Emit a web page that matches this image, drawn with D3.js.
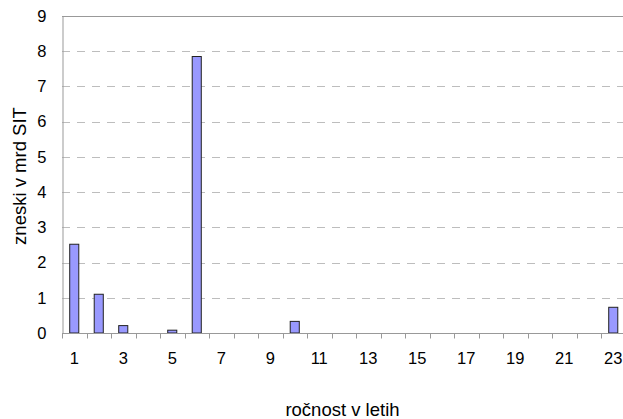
<!DOCTYPE html>
<html>
<head>
<meta charset="utf-8">
<script src="https://cdn.jsdelivr.net/npm/d3@7"></script>
<style>
  body { margin: 0; background: #fff; }
  text { font-family: Arial, 'Liberation Sans', sans-serif; fill: #000; }
</style>
</head>
<body>
<div id="canvas"></div>
<script>
const years = d3.range(1, 24);
const values = [2.52, 1.10, 0.21, 0, 0.08, 7.85, 0, 0, 0, 0.33, 0, 0, 0, 0, 0, 0, 0, 0, 0, 0, 0, 0, 0.73];
const yTicks = [0, 1, 2, 3, 4, 5, 6, 7, 8, 9];
const xLabels = [1, 3, 5, 7, 9, 11, 13, 15, 17, 19, 21, 23];

const w = 623;
const h = 419;
const mLeft = 62, mTop = 16, mRight = 625.5, mBottom = 333;

const svg = d3.select('#canvas')
  .append('svg')
  .attr('width', w)
  .attr('height', h);

const x = d3.scaleBand()
  .domain(years)
  .range([mLeft, mRight])
  .paddingInner(0.63)
  .paddingOuter(0.315);

const xb = d3.scaleBand().domain(years).range([mLeft, mRight]);

const y = d3.scaleLinear().domain([0, 9]).range([mBottom, mTop]);

// grid lines
svg.append('g')
  .selectAll('line')
  .data(yTicks.filter(d => d > 0 && d < 9))
  .enter()
  .append('line')
  .attr('x1', mLeft).attr('x2', mRight)
  .attr('y1', d => Math.round(y(d)) + 0.5).attr('y2', d => Math.round(y(d)) + 0.5)
  .attr('stroke', '#bdbdbd')
  .attr('stroke-dasharray', '8,7');

// top border
svg.append('line')
  .attr('x1', mLeft).attr('x2', mRight)
  .attr('y1', Math.round(y(9)) + 0.5).attr('y2', Math.round(y(9)) + 0.5)
  .attr('stroke', '#999');

// bars
svg.append('g')
  .selectAll('rect')
  .data(values.map((v, i) => ({year: years[i], v: v})).filter(d => d.v > 0))
  .enter()
  .append('rect')
  .attr('x', d => x(d.year))
  .attr('y', d => y(d.v))
  .attr('width', x.bandwidth())
  .attr('height', d => y(0) - y(d.v))
  .attr('fill', '#9999ff')
  .attr('stroke', '#222')
  .attr('stroke-width', 1);

// y axis
const yAxis = svg.append('g')
  .attr('transform', 'translate(' + (mLeft + 0.5) + ',0)')
  .call(d3.axisLeft(y).tickValues(yTicks).tickSize(0).tickPadding(16));
yAxis.select('.domain').attr('stroke', '#999');
yAxis.selectAll('text').style('font-size', '16.5px');

// x axis
const xAxis = svg.append('g')
  .attr('transform', 'translate(0,' + (mBottom + 0.5) + ')');
xAxis.append('line')
  .attr('x1', mLeft).attr('x2', mRight)
  .attr('stroke', '#999');
xAxis.selectAll('line.tick')
  .data(years.concat([24]))
  .enter()
  .append('line')
  .attr('class', 'tick')
  .attr('x1', d => Math.round(d < 24 ? xb(d) : mRight) + 0.5)
  .attr('x2', d => Math.round(d < 24 ? xb(d) : mRight) + 0.5)
  .attr('y1', 0).attr('y2', 5)
  .attr('stroke', '#999');
xAxis.selectAll('text')
  .data(xLabels)
  .enter()
  .append('text')
  .attr('x', d => xb(d) + xb.bandwidth() / 2)
  .attr('y', 30)
  .attr('text-anchor', 'middle')
  .style('font-size', '16.5px')
  .text(d => d);

// titles
svg.append('text')
  .attr('x', 342.5)
  .attr('y', 416)
  .attr('text-anchor', 'middle')
  .style('font-size', '18.5px')
  .text('ročnost v letih');

svg.append('text')
  .attr('transform', 'translate(26,' + 176 + ') rotate(-90)')
  .attr('text-anchor', 'middle')
  .style('font-size', '18.5px')
  .text('zneski v mrd SIT');
</script>
</body>
</html>
